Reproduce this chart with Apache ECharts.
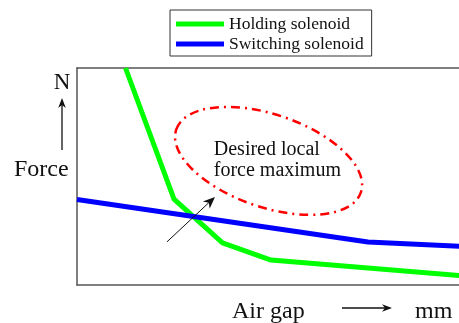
<!DOCTYPE html>
<html>
<head>
<meta charset="utf-8">
<script src="https://cdn.jsdelivr.net/npm/echarts@6/dist/echarts.min.js"></script>
<style>
html,body{margin:0;padding:0;background:#fff;}
#chart{width:459px;height:323px;}
</style>
</head>
<body>
<div id="chart"></div>
<script>
// ---- data ----
const seriesNames = ['Holding solenoid', 'Switching solenoid'];
const holdingX = [1, 2, 3, 4, 8];
const holdingY = [10, 3.96, 1.94, 1.15, 0.42];
const switchingX = [0, 6, 8];
const switchingY = [3.94, 1.98, 1.77];
const annotationText = ['Desired local', 'force maximum'];
const yAxisName = 'N';
const yAxisLabel = 'Force';
const xAxisLabel = 'Air gap';
const xAxisUnit = 'mm';

const holding = holdingX.map((x, i) => [x, holdingY[i]]);
const switching = switchingX.map((x, i) => [x, switchingY[i]]);

const chart = echarts.init(document.getElementById('chart'), null, {renderer: 'canvas'});
const SERIF = '"Liberation Serif", "DejaVu Serif", serif';
const axisLine = {show: true, lineStyle: {color: '#555', width: 1.5}};

chart.setOption({
  animation: false,
  backgroundColor: '#fff',
  grid: {left: 77, right: 0, top: 68, bottom: 38, containLabel: false},
  xAxis: [
    {type: 'value', min: 0, max: 7.876, position: 'bottom', axisLine: axisLine,
     axisTick: {show: false}, axisLabel: {show: false}, splitLine: {show: false}},
    {type: 'value', min: 0, max: 7.876, position: 'top', axisLine: axisLine,
     axisTick: {show: false}, axisLabel: {show: false}, splitLine: {show: false}}
  ],
  yAxis: {type: 'value', min: 0, max: 10, axisLine: axisLine,
    axisTick: {show: false}, axisLabel: {show: false}, splitLine: {show: false}},
  legend: {
    orient: 'vertical', left: 170, top: 10,
    padding: [4, 8, 2, 6], itemGap: 0, itemWidth: 48, itemHeight: 5,
    icon: 'rect', borderColor: '#333', borderWidth: 1, backgroundColor: '#fff',
    textStyle: {fontFamily: SERIF, fontSize: 17.5, color: '#111', lineHeight: 20},
    data: seriesNames
  },
  series: [
    {name: seriesNames[0], type: 'line', data: holding, symbol: 'none', clip: true,
     color: '#00ff00', lineStyle: {color: '#00ff00', width: 5}, z: 2},
    {name: seriesNames[1], type: 'line', data: switching, symbol: 'none', clip: true,
     color: '#0000ff', lineStyle: {color: '#0000ff', width: 5}, z: 3}
  ]
});

function px(d) { return chart.convertToPixel({xAxisIndex: 0, yAxisIndex: 0}, d); }
function arrowHead(tip, from, len, half) {
  const dx = tip[0] - from[0], dy = tip[1] - from[1];
  const L = Math.hypot(dx, dy), ux = dx / L, uy = dy / L;
  const nx = -uy, ny = ux;
  const bx = tip[0] - ux * len, by = tip[1] - uy * len;
  const mx = tip[0] - ux * len * 0.7, my = tip[1] - uy * len * 0.7;
  return {points: [tip, [bx + nx * half, by + ny * half], [mx, my], [bx - nx * half, by - ny * half]], back: [mx, my]};
}

const ell = px([3.95, 5.72]);
const annTail = px([1.856, 1.99]);
const annTip = px([2.845, 4.06]);
const annHead = arrowHead(annTip, annTail, 12, 5);
const txtPos = px([2.82, 6.72]);

const upTip = [62, 98], upTail = [62, 150];
const upHead = arrowHead(upTip, upTail, 10, 3.8);
const rTip = [392, 308], rTail = [342, 308];
const rHead = arrowHead(rTip, rTail, 10, 3.8);

chart.setOption({
  graphic: [
    {type: 'ellipse', x: ell[0], y: ell[1], rotation: -0.328, z: 10,
     shape: {cx: 0, cy: 0, rx: 97.5, ry: 46.4},
     style: {fill: null, stroke: '#ff0000', lineWidth: 2.5, lineDash: [9, 5, 2, 5]}},
    {type: 'line', z: 11, shape: {x1: annTail[0], y1: annTail[1], x2: annHead.back[0], y2: annHead.back[1]},
     style: {stroke: '#111', lineWidth: 1}},
    {type: 'polygon', z: 11, shape: {points: annHead.points}, style: {fill: '#111'}},
    {type: 'text', x: txtPos[0], y: txtPos[1], z: 12,
     style: {text: annotationText.join('\n'), font: '20px ' + SERIF, fill: '#111', lineHeight: 21, align: 'left', verticalAlign: 'top'}},
    {type: 'line', z: 11, shape: {x1: upTail[0], y1: upTail[1], x2: upHead.back[0], y2: upHead.back[1]},
     style: {stroke: '#111', lineWidth: 1.3}},
    {type: 'polygon', z: 11, shape: {points: upHead.points}, style: {fill: '#111'}},
    {type: 'line', z: 11, shape: {x1: rTail[0], y1: rTail[1], x2: rHead.back[0], y2: rHead.back[1]},
     style: {stroke: '#111', lineWidth: 1.3}},
    {type: 'polygon', z: 11, shape: {points: rHead.points}, style: {fill: '#111'}},
    {type: 'text', x: 62, y: 71, z: 12,
     style: {text: yAxisName, font: '23px ' + SERIF, fill: '#111', align: 'center', verticalAlign: 'top'}},
    {type: 'text', x: 14, y: 158, z: 12,
     style: {text: yAxisLabel, font: '24px ' + SERIF, fill: '#111', align: 'left', verticalAlign: 'top'}},
    {type: 'text', x: 232, y: 300, z: 12,
     style: {text: xAxisLabel, font: '24px ' + SERIF, fill: '#111', align: 'left', verticalAlign: 'top'}},
    {type: 'text', x: 415, y: 300, z: 12,
     style: {text: xAxisUnit, font: '24px ' + SERIF, fill: '#111', align: 'left', verticalAlign: 'top'}}
  ]
});
</script>
</body>
</html>
